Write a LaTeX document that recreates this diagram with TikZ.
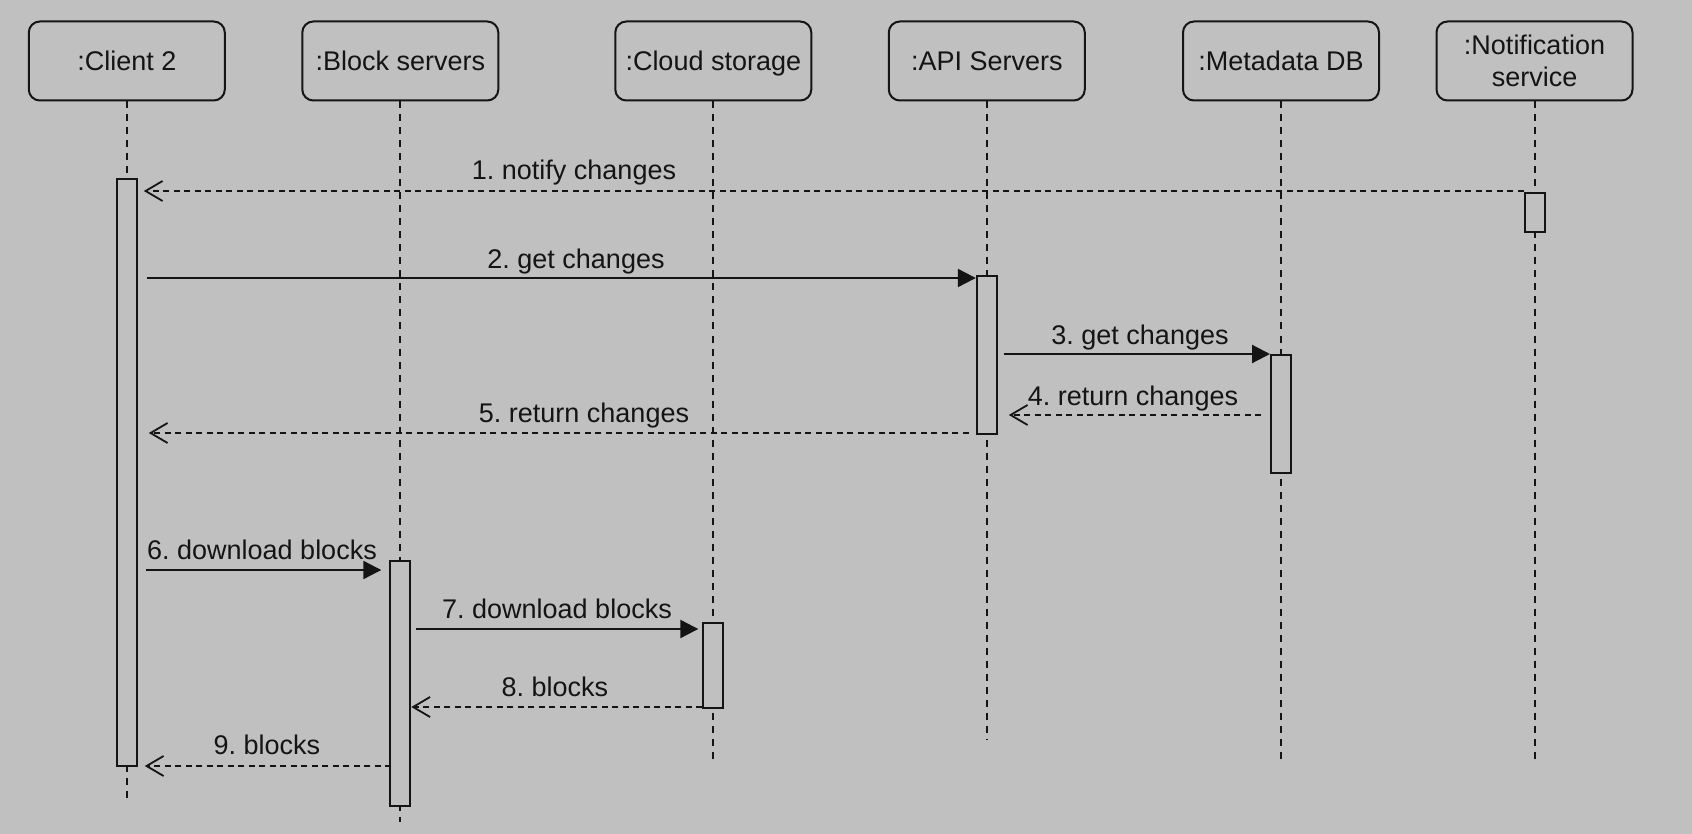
\documentclass[tikz,border=0pt]{standalone}
\usepackage{fontspec}
\setmainfont{Liberation Sans}
\usetikzlibrary{arrows.meta,calc}
\definecolor{bg}{RGB}{192,192,192}
\definecolor{ink}{RGB}{20,20,20}
\frenchspacing
\begin{document}
\begin{tikzpicture}[x=1pt,y=-1pt,
  every node/.style={font=\fontsize{27}{32}\selectfont, text=ink},
  head/.style={draw=ink, line width=2pt, rounded corners=11pt, fill=bg, minimum width=196pt, minimum height=79pt, inner sep=0pt, align=center, text height=19.5pt, text depth=0pt},
  bar/.style={draw=ink, line width=2pt, fill=bg, minimum width=20pt, inner sep=0pt, anchor=north},
  life/.style={draw=ink, line width=2pt, dash pattern=on 7pt off 6pt},
  call/.style={draw=ink, line width=2.2pt, -{Triangle[length=18pt,width=18pt]}},
  ret/.style={draw=ink, line width=1.8pt, dash pattern=on 6pt off 4.5pt, -{Straight Barb[length=17pt,width=20pt]}},
  lbl/.style={inner sep=0pt, anchor=center, text height=19.5pt, text depth=0pt}]
\fill[bg] (0,0) rectangle (1692,834);
\useasboundingbox (0,0) rectangle (1692,834);

% heads
\node[head] (c2) at (126.8,61) {:Client 2};
\node[head] (bs) at (400.3,61) {:Block servers};
\node[head] (cs) at (713.3,61) {:Cloud storage};
\node[head] (api) at (986.8,61) {:API Servers};
\node[head] (md) at (1281,61) {:Metadata DB};
\node[head, text height=, text depth=] (ns) at (1534.5,61) {:Notification\\service};

% lifeline ends
\coordinate (c2end) at (126.8,798);
\coordinate (bsend) at (400.3,822);
\coordinate (csend) at (713.3,764);
\coordinate (apiend) at (986.8,740);
\coordinate (mdend) at (1281,764);
\coordinate (nsend) at (1534.5,764);
\draw[life] (c2.south) -- (c2end);
\draw[life] (bs.south) -- (bsend);
\draw[life] (cs.south) -- (csend);
\draw[life] (api.south) -- (apiend);
\draw[life] (md.south) -- (mdend);
\draw[life] (ns.south) -- (nsend);

% activation bars
\node[bar, minimum height=587pt] (cbar) at (126.8,178) {};
\node[bar, minimum height=39pt] (nbar) at (1534.5,192) {};
\node[bar, minimum height=158pt] (abar) at (986.8,275) {};
\node[bar, minimum height=118pt] (mbar) at (1281,354) {};
\node[bar, minimum height=245pt] (bbar) at (400.3,560) {};
\node[bar, minimum height=85pt] (sbar) at (713.3,622) {};

% message rows
\coordinate (y1) at (0,191);
\coordinate (y2) at (0,278);
\coordinate (y3) at (0,354);
\coordinate (y4) at (0,415);
\coordinate (y5) at (0,433);
\coordinate (y6) at (0,570);
\coordinate (y7) at (0,629);
\coordinate (y8) at (0,707);
\coordinate (y9) at (0,766);

\draw[ret, shorten >=6pt] (nbar.west |- y1) -- (cbar.east |- y1);
\draw[call, shorten <=9pt] (cbar.east |- y2) -- (abar.west |- y2);
\draw[call, shorten <=6pt] (abar.east |- y3) -- (mbar.west |- y3);
\draw[ret, shorten <=9pt, shorten >=11pt] (mbar.west |- y4) -- (abar.east |- y4);
\draw[ret, shorten <=7pt, shorten >=11pt] (abar.west |- y5) -- (cbar.east |- y5);
\draw[call, shorten <=8pt, shorten >=8pt] (cbar.east |- y6) -- (bbar.west |- y6);
\draw[call, shorten <=5pt, shorten >=4pt] (bbar.east |- y7) -- (sbar.west |- y7);
\draw[ret] (sbar.west |- y8) -- (bbar.east |- y8);
\draw[ret, shorten <=-2pt, shorten >=7pt] (bbar.west |- y9) -- (cbar.east |- y9);

% labels
\node[lbl] (l1) at (574,170) {1. notify changes};
\node[lbl] (l2) at (576,259) {2. get changes};
\node[lbl] (l3) at (1140,335) {3. get changes};
\node[lbl] (l4) at (1133,396) {4. return changes};
\node[lbl] (l5) at (584,413) {5. return changes};
\node[lbl] (l6) at (262,550) {6. download blocks};
\node[lbl] (l7) at (557,609) {7. download blocks};
\node[lbl] (l8) at (555,687) {8. blocks};
\node[lbl] (l9) at (267,745) {9. blocks};
\end{tikzpicture}
\end{document}
